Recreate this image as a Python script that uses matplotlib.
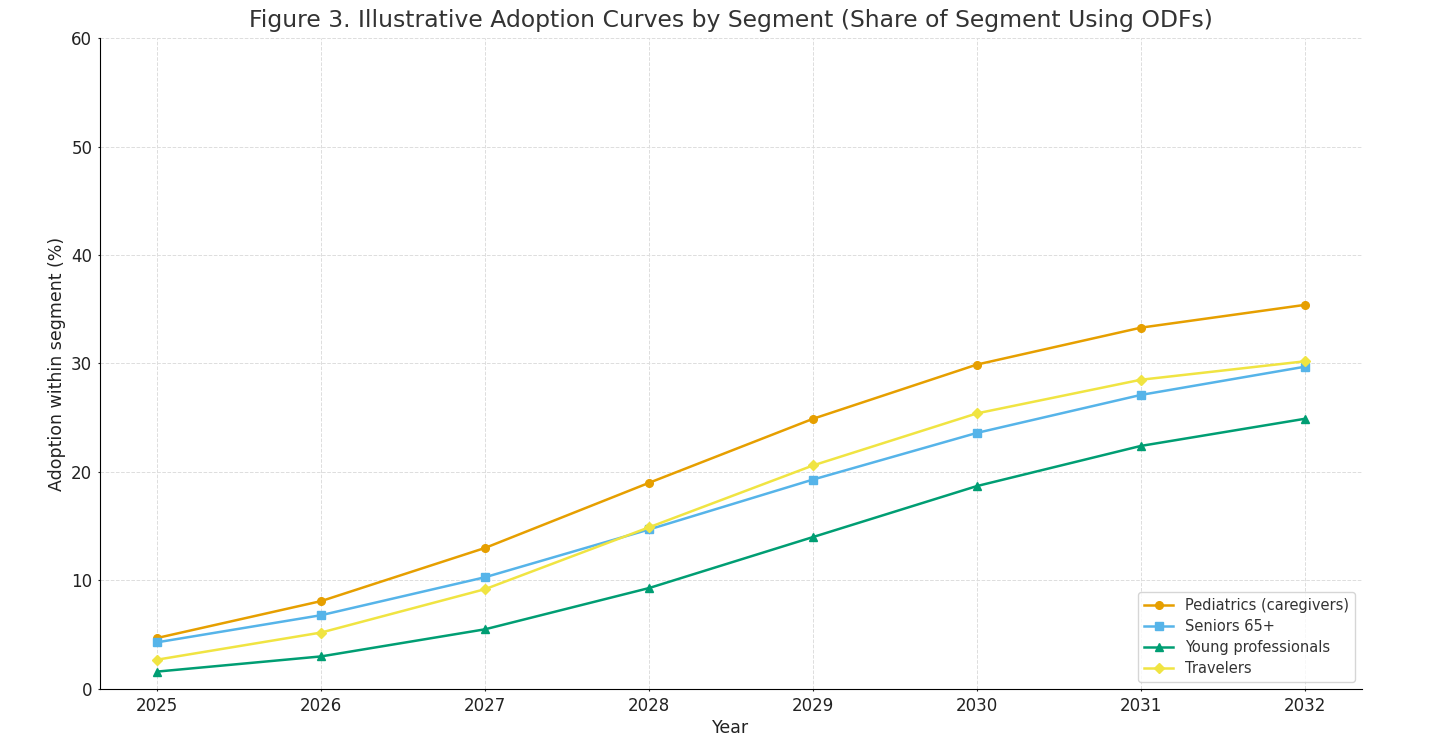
import matplotlib
matplotlib.use("Agg")
from matplotlib import pyplot as plt

# Datos
anios = [2025, 2026, 2027, 2028, 2029, 2030, 2031, 2032]
pediatria = [4.7, 8.1, 13.0, 19.0, 24.9, 29.9, 33.3, 35.4]
mayores = [4.3, 6.8, 10.3, 14.7, 19.3, 23.6, 27.1, 29.7]
jovenes = [1.6, 3.0, 5.5, 9.3, 14.0, 18.7, 22.4, 24.9]
viajeros = [2.7, 5.2, 9.2, 14.9, 20.6, 25.4, 28.5, 30.2]

series = [
    ("Pediatrics (caregivers)", pediatria, "#E69F00", "o"),
    ("Seniors 65+", mayores, "#56B4E9", "s"),
    ("Young professionals", jovenes, "#009E73", "^"),
    ("Travelers", viajeros, "#F0E442", "D"),
]

fig, ax = plt.subplots(figsize=(14.36, 7.4), dpi=100)
fig.subplots_adjust(left=0.0696, right=0.9485, top=0.9486, bottom=0.069)

for nombre, valores, color, marca in series:
    ax.plot(anios, valores, color=color, marker=marca, markersize=5.5 if marca != "D" else 5,
            linewidth=1.8, label=nombre)

ax.set_ylim(0, 60)
ax.set_xticks(anios)
ax.tick_params(labelsize=12, colors="#222222", length=1.5, pad=4)
ax.set_title("Figure 3. Illustrative Adoption Curves by Segment (Share of Segment Using ODFs)",
             fontsize=16.9, color="#333333", pad=8)
ax.set_xlabel("Year", fontsize=12.5, color="#222222", labelpad=3)
ax.set_ylabel("Adoption within segment (%)", fontsize=12.5, color="#222222")
ax.grid(True, linestyle="--", color="#dddddd", linewidth=0.7)
ax.spines["top"].set_visible(False)
ax.spines["right"].set_visible(False)
ax.legend(loc="lower right", fontsize=10.5, labelcolor="#333333", labelspacing=0.4)

plt.savefig("out.png", dpi=100)
